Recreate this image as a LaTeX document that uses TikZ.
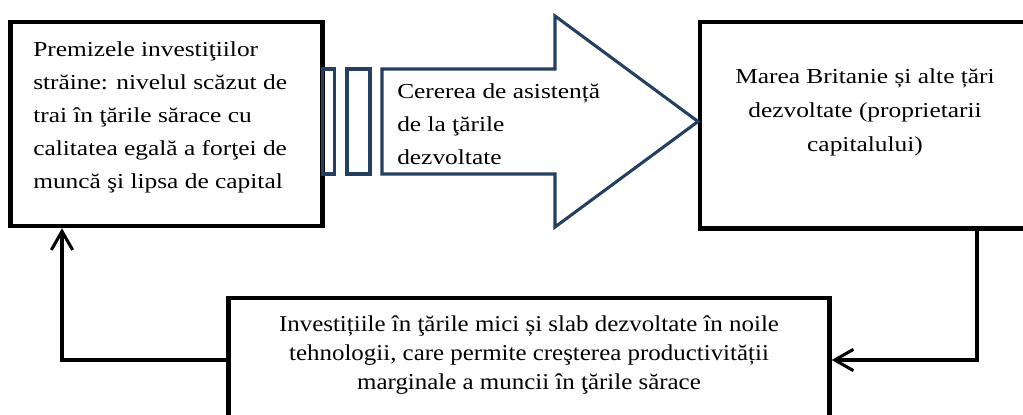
\documentclass[tikz,border=0pt]{standalone}
\usepackage{fontspec}
\setmainfont{Liberation Serif}
\newfontfamily\wideserif[FakeStretch=1.19]{Liberation Serif}
\newfontfamily\midserif[FakeStretch=1.1]{Liberation Serif}
\usetikzlibrary{arrows.meta}
\definecolor{darkblue}{HTML}{243F60}

\begin{document}
\begin{tikzpicture}[x=0.75pt, y=-0.75pt,
    box/.style={draw, line width=3.3pt, rectangle, inner sep=0pt},
    txt/.style={inner sep=0pt, font=\wideserif\fontsize{16}{24.75}\selectfont},
    link/.style={line width=2.3pt, -{Straight Barb[length=14pt, width=16pt, line width=2.3pt]}},
    band/.style={draw=darkblue, line width=2.3pt}]
      \useasboundingbox (0,0) rectangle (1023,414);
      \clip (0,0) rectangle (1023,414);

      % Draw the boxes
      \node[box, minimum width=234pt, minimum height=153pt] (prem) at (166.5,124) {};
      \node[box, minimum width=247.5pt, minimum height=155pt] (brit) at (865,125.25) {};
      \node[box, minimum width=450.75pt, minimum height=93pt] (invest) at (529,360) {};

      % Draw the blue arrow
      \draw[band] (322.5,69) rectangle (334.5,174);
      \draw[band] (347,69) rectangle (370,174);
      \draw[band, line join=miter] (382,69) -- (555,69) -- (555,16) -- (698,121.5)
        -- (555,227) -- (555,174) -- (382,174) -- cycle;

      % Draw the texts (anchored at the last line)
      \node[txt, anchor=base west, align=left] (premtxt) at (33,188) {Premizele investiţiilor\\străine: nivelul scăzut de\\trai în ţările sărace cu\\calitatea egală a forţei de\\muncă şi lipsa de capital};
      \node[txt, anchor=base west, align=left] (cerere) at (397,164) {Cererea de asistență\\de la ţările\\dezvoltate};
      \node[txt, anchor=base, align=center, font=\wideserif\fontsize{16}{25.5}\selectfont] (brittxt) at (865,151) {Marea Britanie și alte țări\\dezvoltate (proprietarii\\capitalului)};
      \node[txt, anchor=base, align=center, font=\midserif\fontsize{17}{21.4}\selectfont] (investtxt) at (529,389) {Investițiile în ţările mici și slab dezvoltate în noile\\tehnologii, care permite creşterea productivității\\marginale a muncii în ţările sărace};

      % Draw the edges
      \draw[link] (brit.south -| 977,0) |- (invest.east);
      \draw[link] (invest.west) -| (prem.south -| 62,0);
\end{tikzpicture}
\end{document}
